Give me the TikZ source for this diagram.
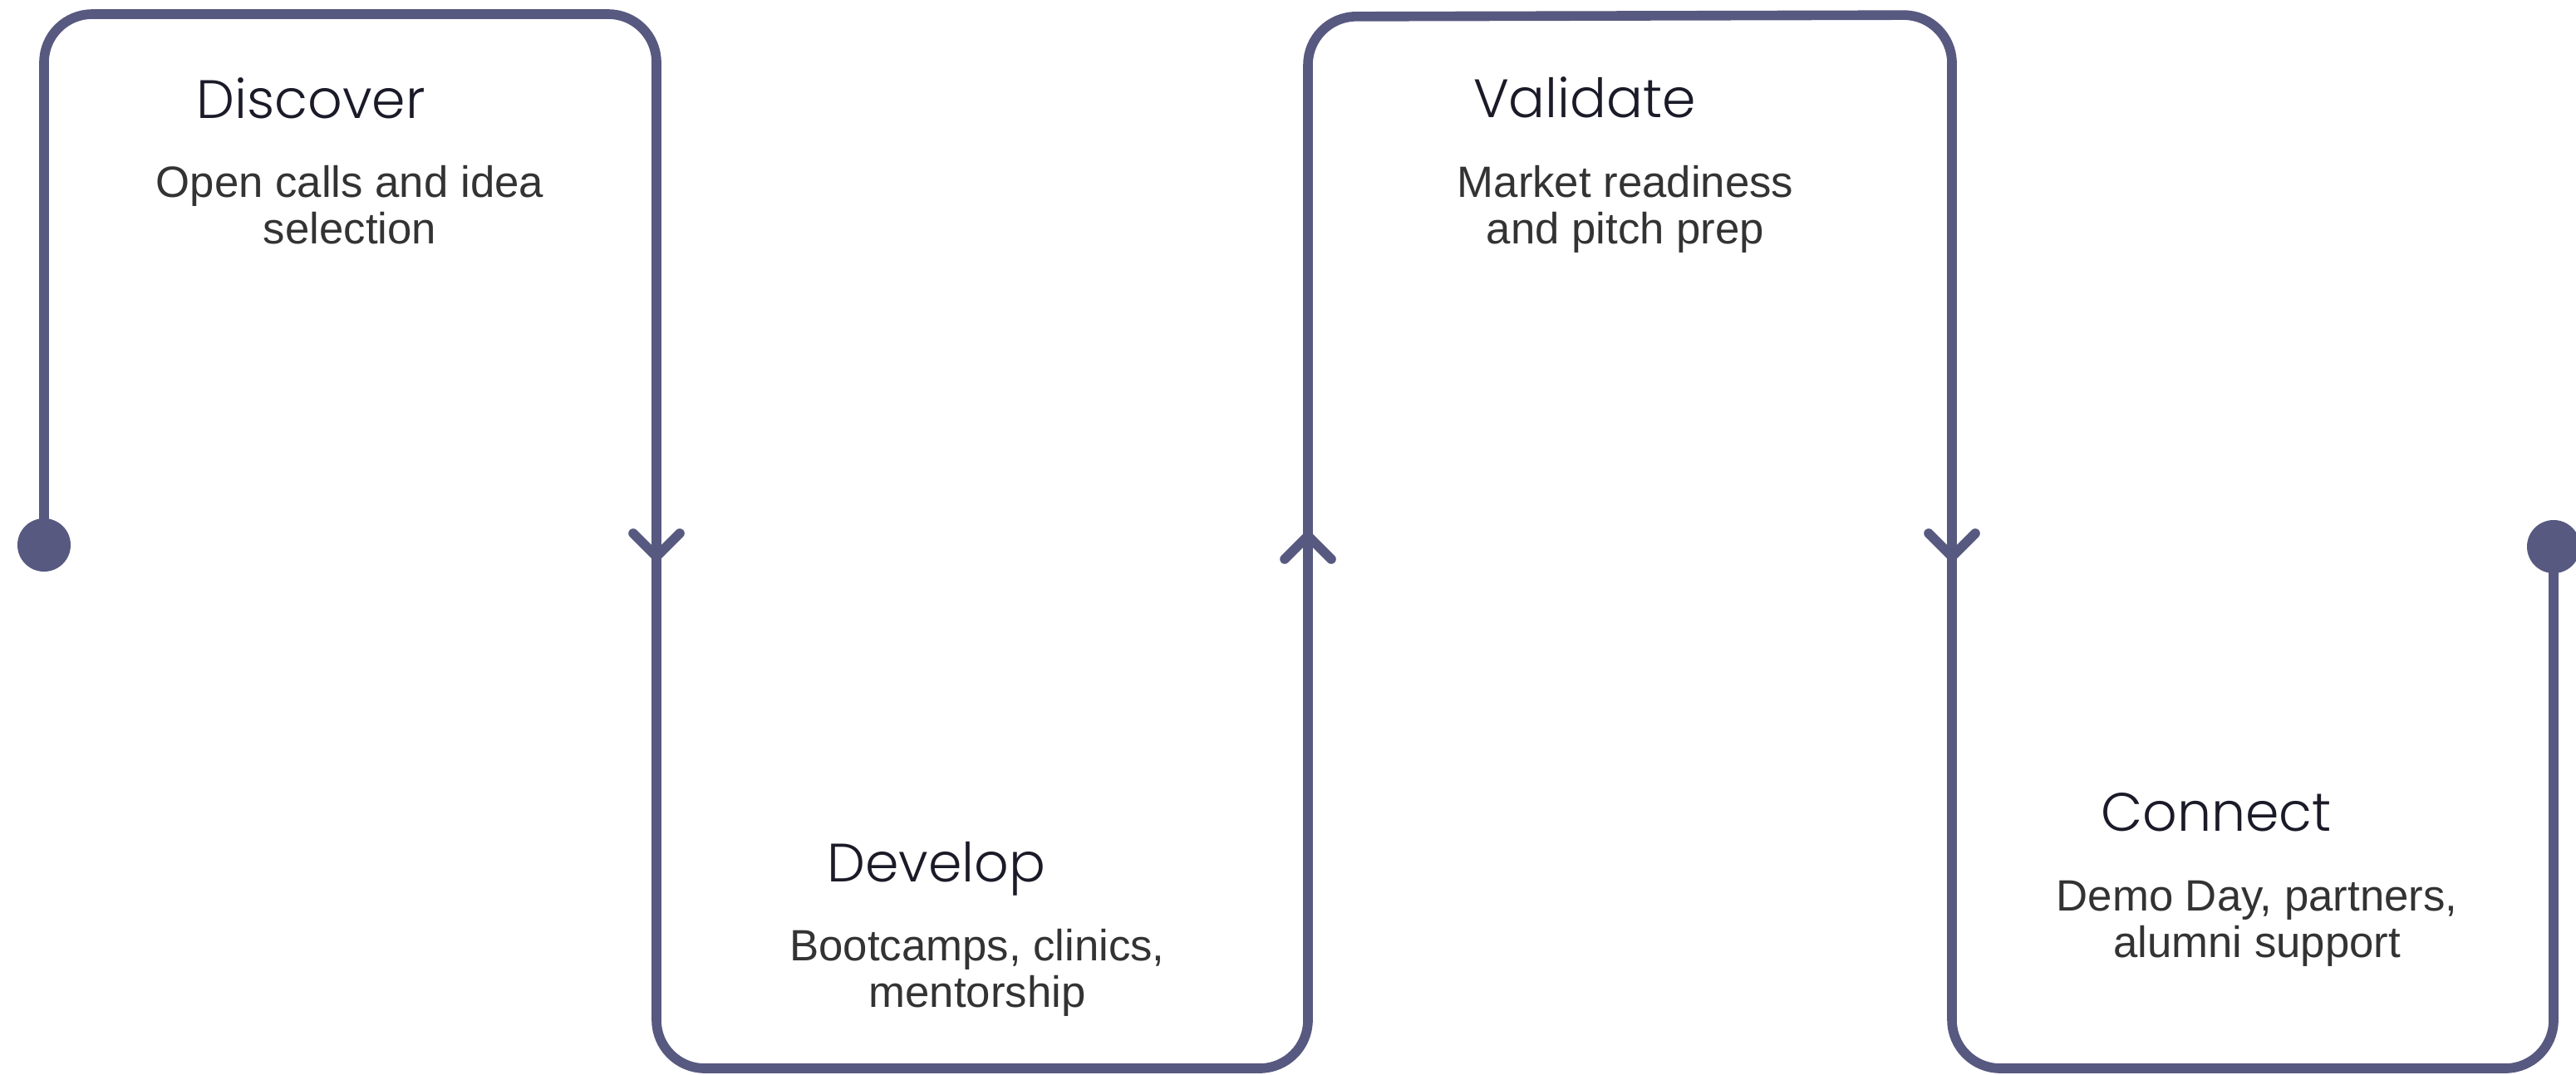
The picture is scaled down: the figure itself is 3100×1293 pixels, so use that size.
\documentclass[tikz,border=0pt]{standalone}
\usepackage{fontspec}
\setmainfont{Liberation Sans}
\newfontfamily\headfont{Poppins Light}

\definecolor{pathblue}{RGB}{88,89,128}
\definecolor{headink}{RGB}{26,26,40}
\definecolor{bodyink}{RGB}{51,51,51}

\tikzset{
  flow/.style={draw=pathblue, line width=3.3pt, rounded corners=0.58cm},
  chevron/.style={draw=pathblue, line width=3.3pt, line cap=round, line join=round},
  dot/.style={circle, fill=pathblue, minimum size=0.64cm, inner sep=0pt},
  head/.style={font=\headfont\fontsize{18.5}{20}\selectfont, text=headink, anchor=base},
  body/.style={font=\fontsize{15}{15.9}\selectfont, text=bodyink, align=center, anchor=base}
}

\begin{document}
\begin{tikzpicture}[x=0.01cm, y=-0.01cm]
    \useasboundingbox (0,0) rectangle (3100,1293);

    % corners of the path
    \coordinate (c1) at (53,17);
    \coordinate (c2) at (790,17);
    \coordinate (c3) at (790,1286);
    \coordinate (c4) at (1574,1286);
    \coordinate (c5) at (1574,20);
    \coordinate (c6) at (2349,18);
    \coordinate (c7) at (2349,1286);
    \coordinate (c8) at (3073,1286);

    \node [dot] (start) at (53,656) {};
    \node [dot] (finish) at (3073,658) {};

    \draw [flow] (start.center) -- (c1) -- (c2) -- (c3) -- (c4) -- (c5)
        -- (c6) -- (c7) -- (c8) -- (finish.center);

    % direction marks
    \coordinate (a1) at (790,670);
    \coordinate (a2) at (1574,645);
    \coordinate (a3) at (2349,670);
    \draw [chevron] (a1) ++(-28,-28) -- (a1) -- ++(28,-28);
    \draw [chevron] (a2) ++(-28,28) -- (a2) -- ++(28,28);
    \draw [chevron] (a3) ++(-28,-28) -- (a3) -- ++(28,-28);

    % base of a body node sits on its last line
    \node [head] (discover) at (374,142) {Discover};
    \node [body] (discoverText) at (421,293) {Open calls and idea\\selection};

    \node [head] (develop) at (1127,1061) {Develop};
    \node [body] (developText) at (1176,1212) {Bootcamps, clinics,\\mentorship};

    \node [head] (validate) at (1907,141) {Validate};
    \node [body] (validateText) at (1956,293) {Market readiness\\and pitch prep};

    \node [head] (connect) at (2667,1000) {Connect};
    \node [body] (connectText) at (2716,1152) {Demo Day, partners,\\alumni support};
\end{tikzpicture}
\end{document}
